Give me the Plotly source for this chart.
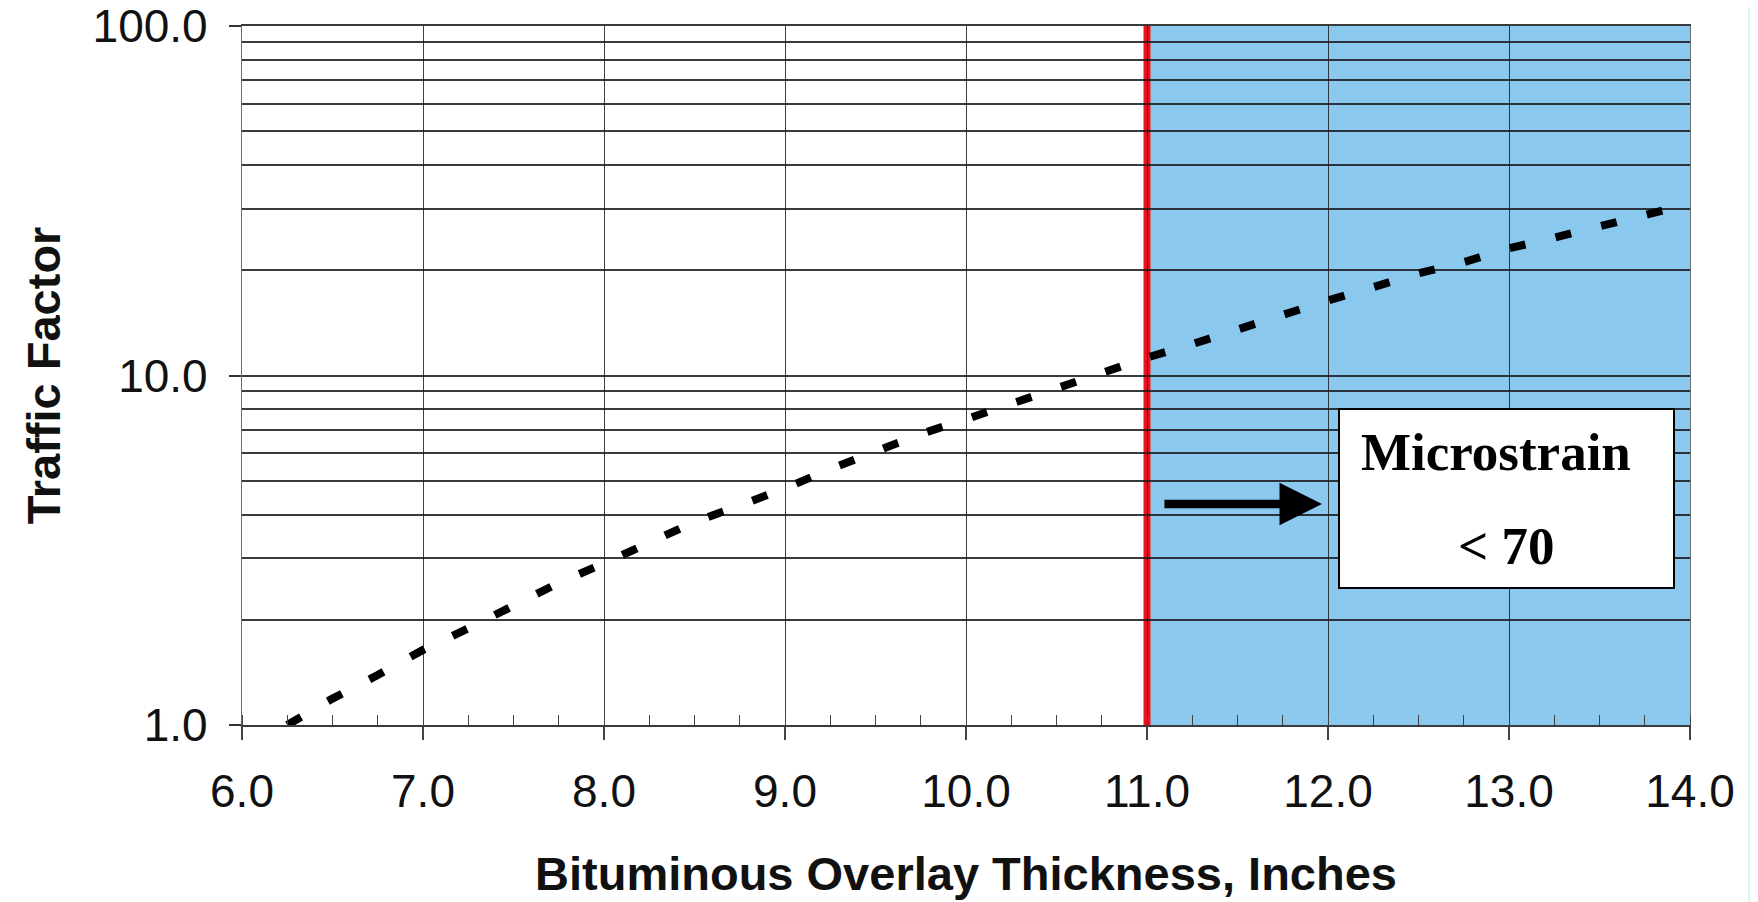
import plotly.graph_objects as go

# ---- data ----
thickness = [6.25, 6.50, 6.75, 7.00, 7.25, 7.50, 7.75, 8.00, 8.25, 8.50, 8.75,
             9.00, 9.25, 9.50, 9.75, 10.00, 10.25, 10.50, 10.75, 11.00, 11.25,
             11.50, 11.75, 12.00, 12.25, 12.50, 12.75, 13.00, 13.25, 13.50,
             13.75, 14.00]
traffic_factor = [1.00, 1.19, 1.39, 1.64, 1.89, 2.20, 2.55, 2.90, 3.31, 3.81, 4.25,
                  4.75, 5.40, 6.10, 6.80, 7.50, 8.30, 9.25, 10.1, 11.25, 12.3,
                  13.6, 14.9, 16.4, 17.9, 19.6, 21.1, 23.1, 24.8, 26.8,
                  29.0, 31.0]

x_ticks = [6, 7, 8, 9, 10, 11, 12, 13, 14]
x_tick_labels = ["6.0", "7.0", "8.0", "9.0", "10.0", "11.0", "12.0", "13.0", "14.0"]
y_ticks = [1, 10, 100]
y_tick_labels = ["1.0", "10.0", "100.0"]
y_minor = [2, 3, 4, 5, 6, 7, 8, 9, 20, 30, 40, 50, 60, 70, 80, 90]

threshold_x = 11.0          # microstrain limit thickness
x_max = 14.0
box_line1 = "Microstrain"
box_line2 = "&lt; 70"
x_title = "Bituminous Overlay Thickness, Inches"
y_title = "Traffic Factor"

# page offset of the figure (default body margin)
OFF = 8
W, H = 1758 - OFF, 902 - OFF
PL, PR, PT, PB = 242, 1690, 26, 725          # plot area in page pixels
ML, MR, MT, MB = PL - OFF, W - (PR - OFF), PT - OFF, H - (PB - OFF)
PW = PR - PL
PH = PB - PT

def px(xp):   # page pixel -> paper x
    return (xp - PL) / PW

def py(yp):   # page pixel -> paper y
    return (PB - yp) / PH

fig = go.Figure()

fig.add_trace(go.Scatter(
    x=thickness, y=traffic_factor, mode="lines",
    line=dict(color="black", width=8, dash="16px,31px"),
    hoverinfo="skip", showlegend=False,
))

grid_h = "rgba(25,25,25,0.85)"
grid_v = "rgba(30,30,30,0.85)"
label_font = dict(family="Liberation Sans, Arial", size=46, color="#111")
title_font = dict(family="Liberation Sans, Arial", size=47, color="#111", weight="bold")

fig.update_xaxes(
    range=[6, 14], tickvals=x_ticks, ticktext=x_tick_labels,
    ticks="outside", ticklen=13, tickwidth=1.5, tickcolor="#444",
    showgrid=True, gridcolor=grid_v, gridwidth=1.2,
    showline=True, linecolor=grid_h, linewidth=1.5, mirror=True,
    zeroline=False,
    minor=dict(dtick=0.25, tick0=6, ticks="inside", ticklen=10, tickwidth=1.2,
               tickcolor="#444", showgrid=False),
    tickfont=label_font, ticklabeloverflow="allow",
    ticklabelstandoff=12,
    title=dict(text=x_title, standoff=41, font=title_font),
)

fig.update_yaxes(
    type="log", range=[0, 2], tickvals=y_ticks, ticktext=y_tick_labels,
    ticks="outside", ticklen=12, tickwidth=1.5, tickcolor="#333",
    showgrid=True, gridcolor=grid_h, gridwidth=1.5,
    showline=True, linecolor="rgba(70,70,70,0.8)", linewidth=1.2, mirror=True,
    zeroline=False,
    minor=dict(tickvals=y_minor, ticks="", showgrid=True,
               gridcolor=grid_h, gridwidth=1.5),
    tickfont=label_font, ticklabeloverflow="allow",
    ticklabelstandoff=12,
    title=dict(text=y_title, standoff=17, font=title_font),
)

shapes = [
    # shaded region right of the threshold
    dict(type="rect", xref="x", yref="paper", x0=threshold_x, x1=x_max, y0=0, y1=1,
         fillcolor="#8BC8EE", line=dict(width=0), layer="below"),
    # red threshold line
    dict(type="line", xref="x", yref="paper", x0=threshold_x, x1=threshold_x, y0=0, y1=1,
         line=dict(color="#E8141E", width=7), layer="between"),
    # mint page edge on the right
    dict(type="rect", xref="paper", yref="paper", x0=px(1748), x1=px(1762),
         y0=py(905), y1=py(0), fillcolor="#E1F5ED", line=dict(width=0), layer="below"),
]

annotations = [
    # arrow pointing to the box
    dict(x=11.967, y=py(504), xref="x", yref="paper", axref="x", ax=11.088,
         ayref="pixel", ay=0, text="", showarrow=True, arrowhead=2,
         arrowwidth=8.5, arrowsize=1.0, arrowcolor="black"),
    # box
    dict(x=px(1506.5), y=py(498.5), xref="paper", yref="paper", text=" ",
         xanchor="center", yanchor="middle",
         showarrow=False, width=333, height=177, bgcolor="white",
         bordercolor="black", borderwidth=2, borderpad=0),
    dict(x=px(1495.5), y=py(452), xref="paper", yref="paper", text=box_line1,
         xanchor="center", yanchor="middle", showarrow=False,
         font=dict(family="Liberation Serif, Times New Roman", size=53, color="black",
                   weight="bold")),
    dict(x=px(1506), y=py(546), xref="paper", yref="paper", text=box_line2,
         xanchor="center", yanchor="middle", showarrow=False,
         font=dict(family="Liberation Serif, Times New Roman", size=53, color="black",
                   weight="bold")),
]

fig.update_layout(
    width=W, height=H,
    margin=dict(l=ML, r=MR, t=MT, b=MB, autoexpand=False),
    paper_bgcolor="white", plot_bgcolor="white",
    shapes=shapes, annotations=annotations,
    showlegend=False,
)

fig.write_html("out.html")
